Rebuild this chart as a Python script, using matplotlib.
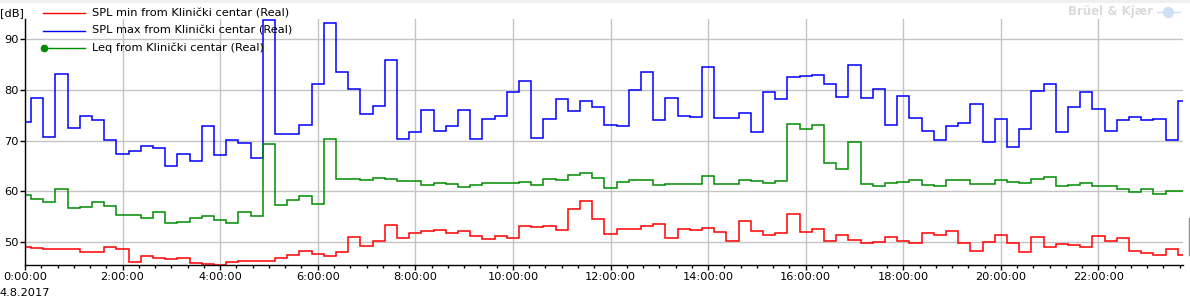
import numpy as np
import matplotlib.pyplot as plt
from matplotlib.lines import Line2D
from matplotlib.patches import Rectangle

# 15 minute intervals, first and last are partial (times in minutes)
first_edge = 7.5
interval = 15.0
last_time = 1424.0

spl_max = [73.6, 78.4, 70.8, 83.1, 72.5, 74.8, 74.0, 70.1, 67.3, 67.9,
           68.9, 68.5, 65.0, 67.3, 66.0, 72.8, 67.1, 70.1, 69.5, 66.6,
           93.9, 71.3, 71.3, 73.1, 81.1, 93.3, 83.6, 80.1, 75.2, 76.8,
           85.9, 70.3, 71.7, 76.0, 71.9, 72.9, 76.0, 70.3, 74.2, 74.8,
           79.6, 81.7, 70.5, 74.2, 78.2, 75.8, 77.8, 76.6, 73.1, 72.9,
           80.0, 83.5, 74.0, 78.4, 74.8, 74.6, 84.5, 74.4, 74.4, 75.4,
           71.7, 79.6, 78.2, 82.5, 82.7, 82.9, 81.1, 78.6, 84.9, 78.4,
           80.1, 73.1, 78.8, 74.4, 71.9, 70.1, 72.9, 73.4, 77.2, 69.7,
           74.2, 68.7, 72.3, 79.8, 81.1, 71.7, 76.6, 79.6, 76.2, 71.9,
           74.0, 74.6, 74.0, 74.2, 70.1, 77.8]

leq = [59.3, 58.5, 57.9, 60.4, 56.7, 56.9, 57.9, 57.1, 55.3, 55.3,
       54.7, 55.9, 53.7, 53.9, 54.8, 55.1, 54.3, 53.7, 55.9, 55.1,
       69.3, 57.3, 58.3, 59.1, 57.5, 70.3, 62.4, 62.4, 62.2, 62.6,
       62.4, 62.0, 62.0, 61.2, 61.6, 61.4, 60.8, 61.2, 61.6, 61.6,
       61.6, 61.8, 61.2, 62.4, 62.2, 63.2, 63.6, 62.6, 60.6, 61.8,
       62.2, 62.2, 61.2, 61.4, 61.4, 61.4, 63.0, 61.4, 61.4, 62.2,
       62.0, 61.6, 62.0, 73.3, 72.3, 73.1, 65.6, 64.4, 69.7, 61.4,
       61.0, 61.6, 61.8, 62.2, 61.2, 61.0, 62.2, 62.2, 61.4, 61.4,
       62.2, 61.8, 61.6, 62.4, 62.8, 61.0, 61.2, 61.6, 61.0, 61.0,
       60.4, 59.8, 60.4, 59.5, 60.0, 60.0]

spl_min = [49.0, 48.8, 48.6, 48.6, 48.6, 48.0, 48.0, 49.0, 48.6, 46.1,
           47.2, 46.8, 46.7, 46.8, 45.9, 45.7, 45.4, 46.1, 46.3, 46.3,
           46.3, 46.8, 47.4, 48.2, 47.6, 47.2, 48.0, 51.0, 49.2, 50.2,
           53.3, 50.8, 51.8, 52.2, 52.4, 51.8, 52.2, 51.2, 50.6, 51.2,
           50.8, 53.2, 53.0, 53.2, 52.4, 56.5, 58.1, 54.5, 51.6, 52.6,
           52.6, 53.2, 53.5, 50.8, 52.6, 52.4, 52.8, 52.0, 50.2, 54.1,
           52.2, 51.4, 51.8, 55.5, 52.0, 52.6, 50.2, 51.4, 50.4, 49.8,
           50.0, 51.0, 50.2, 49.8, 51.8, 51.4, 52.2, 49.8, 48.2, 50.0,
           51.4, 49.8, 48.0, 51.0, 49.0, 49.6, 49.4, 49.0, 51.2, 50.2,
           50.8, 48.2, 47.8, 47.4, 48.6, 47.4]

x_labels = ["0:00:00", "2:00:00", "4:00:00", "6:00:00", "8:00:00", "10:00:00",
            "12:00:00", "14:00:00", "16:00:00", "18:00:00", "20:00:00", "22:00:00"]
y_ticks = [50, 60, 70, 80, 90]

n = len(spl_max)
edges_min = np.concatenate([[0.0], first_edge + interval * np.arange(n - 1), [last_time]])
edges = edges_min / 60.0

plt.rcParams['font.family'] = ['DejaVu Sans']
fs = 8.2

fig = plt.figure(figsize=(11.9, 3.02), dpi=100)
W, H = 1190.0, 302.0
ax = fig.add_axes([25 / W, 1 - 265 / H, (1183 - 25) / W, (265 - 19) / H])

ax.stairs(spl_max, edges, color='#0000ff', lw=1.1, baseline=None)
ax.stairs(leq, edges, color='#008c00', lw=1.1, baseline=None)
ax.stairs(spl_min, edges, color='#ff0000', lw=1.1, baseline=None)

ax.set_xlim(0, last_time / 60.0)
ax.set_ylim(45.47, 94.0)

ax.set_xticks(np.arange(0, 24, 2))
ax.set_xticklabels(x_labels, fontsize=fs)
ax.set_xticks(np.arange(0, 23.74, 1 / 3), minor=True)
ax.set_yticks(y_ticks)
ax.set_yticklabels([str(v) for v in y_ticks], fontsize=fs)

ax.grid(True, which='major', color='#c4c4c4', lw=1.0)
ax.set_axisbelow(True)
for s in ['top', 'right']:
    ax.spines[s].set_visible(False)
ax.spines['left'].set_linewidth(1.0)
ax.spines['bottom'].set_linewidth(1.0)
ax.tick_params(axis='x', which='major', length=3.6, width=1, pad=1.5)
ax.tick_params(axis='x', which='minor', length=2.2, width=1)
ax.tick_params(axis='y', which='major', length=3.6, width=1, pad=1)

# top strip
fig.add_artist(Rectangle((0, 1 - 3 / H), 1, 3 / H, transform=fig.transFigure,
                         color='#f0f0f0', lw=0))

fig.text(0 / W, 1 - 13 / H, "[dB]", fontsize=fs, va='center', ha='left')
fig.text(0 / W, 1 - 293 / H, "4.8.2017", fontsize=fs, va='center', ha='left')

# legend
legend_rows = [("SPL min from Klinički centar (Real)", '#ff0000', False),
               ("SPL max from Klinički centar (Real)", '#0000ff', False),
               ("Leq from Klinički centar (Real)", '#008c00', True)]
for i, (label, color, marker) in enumerate(legend_rows):
    yy = 1 - (13 + 17.5 * i) / H
    fig.add_artist(Line2D([43 / W, 85 / W], [yy, yy], color=color, lw=1.0,
                          transform=fig.transFigure))
    if marker:
        fig.add_artist(Line2D([44 / W], [yy], color=color, marker='o', ms=4.5,
                              transform=fig.transFigure))
    fig.text(92 / W, yy, label, fontsize=fs, va='center', ha='left')

fig.text(1153 / W, 1 - 11 / H, "Brüel & Kjær", fontsize=8.5, fontweight='bold',
         color='#dadada', va='center', ha='right')
fig.add_artist(Line2D([1168 / W], [1 - 12 / H], color='#cfe0f4', marker='o', ms=7,
                      transform=fig.transFigure))
fig.add_artist(Line2D([1157 / W, 1180 / W], [1 - 12 / H, 1 - 12 / H], color='#cfe0f4',
                      lw=1.0, transform=fig.transFigure))
fig.add_artist(Line2D([1188.5 / W, 1188.5 / W], [1 - 218 / H, 1 - 255 / H],
                      color='#909090', lw=1.0, transform=fig.transFigure))

fig.savefig('out.png', dpi=100)
